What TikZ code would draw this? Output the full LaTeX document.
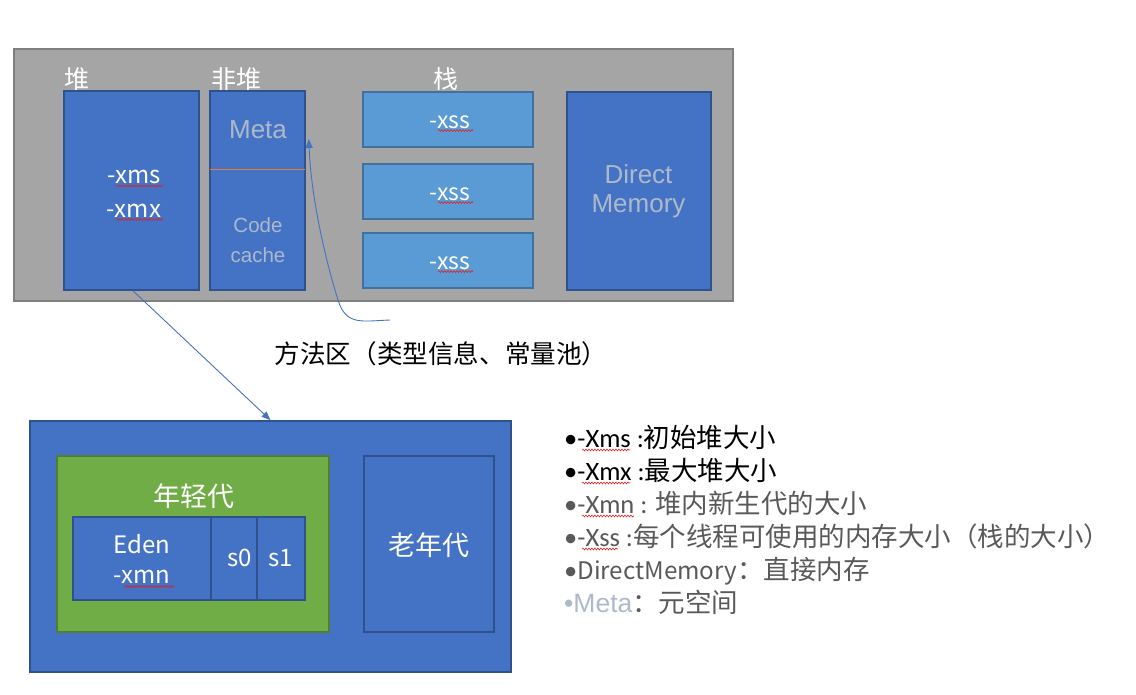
\documentclass[tikz,border=0pt]{standalone}
\usepackage{fontspec}
\setmainfont{Noto Sans CJK SC}
\newfontfamily\lib{Liberation Sans}
\newfontfamily\carl{Carlito}
\usetikzlibrary{arrows.meta,decorations.pathmorphing}
\definecolor{greyfill}{HTML}{A5A5A5}
\definecolor{greyline}{HTML}{7F7F7F}
\definecolor{bfill}{HTML}{4472C4}
\definecolor{bline}{HTML}{2F528F}
\definecolor{lbfill}{HTML}{5B9BD5}
\definecolor{lbline}{HTML}{41719C}
\definecolor{gfill}{HTML}{70AD47}
\definecolor{gline}{HTML}{507E32}
\definecolor{paletxt}{HTML}{ADB9CA}
\definecolor{darkgrey}{HTML}{595959}
\definecolor{orangeline}{HTML}{ED7D31}
\definecolor{spell}{HTML}{E02020}
\begin{document}
\begin{tikzpicture}[x=1pt,y=-1pt,
  box/.style={draw, rectangle, inner sep=0pt, line width=1.6pt},
  greybox/.style={box, fill=greyfill, draw=greyline},
  bluebox/.style={box, fill=bfill, draw=bline},
  lightbox/.style={box, fill=lbfill, draw=lbline},
  greenbox/.style={box, fill=gfill, draw=gline},
  wtxt/.style={text=white, inner sep=0pt, font=\fontsize{25}{30}\selectfont},
  paletext/.style={text=paletxt, inner sep=0pt, font=\lib\fontsize{26}{31}\selectfont},
  arr/.style={draw=bfill, line width=0.9pt, -{Triangle[length=9pt,width=7pt]}},
  wavy/.style={draw=spell, line width=0.6pt, decorate, decoration={snake, amplitude=0.9pt, segment length=3pt}},
  legend/.style={anchor=base west, inner sep=0pt, font=\fontsize{26.5}{31}\selectfont}
]
\useasboundingbox (0,0) rectangle (1136,694);

% ---------- top grey area ----------
\node[greybox, minimum width=719, minimum height=252] (outer) at (373.5,175) {};
\node[bluebox, minimum width=135, minimum height=199] (heap) at (131.5,190.5) {};
\node[bluebox, minimum width=95, minimum height=199] (nonheap) at (257.5,190.5) {};
\coordinate (divy) at (0,169);
\draw[orangeline, line width=0.8pt] ([xshift=1]nonheap.west |- divy) -- ([xshift=-1]nonheap.east |- divy);
\node[lightbox, minimum width=170, minimum height=55] (xss1) at (448,119.5) {};
\node[lightbox, minimum width=170, minimum height=55] (xss2) at (448,191.5) {};
\node[lightbox, minimum width=170, minimum height=55] (xss3) at (448,260.5) {};
\node[bluebox, minimum width=144, minimum height=198] (dm) at (639,191) {};

\node[wtxt] (lheap) at (76.5,79) {堆};
\node[wtxt] (lnonheap) at (236,79) {非堆};
\node[wtxt] (lstack) at (446,79) {栈};

\node[wtxt, font=\fontsize{24}{29}\selectfont] (xms) at (134,177) {-xms};
\node[wtxt, font=\fontsize{24}{29}\selectfont] (xmx) at (134,211) {-xmx};
\draw[wavy] (116,186) -- (163,186);
\draw[wavy] (116,219.5) -- (163,219.5);

\node[paletext] (meta) at (258,129.5) {Meta};
\node[paletext, font=\lib\fontsize{20.5}{25}\selectfont] (code) at (258,225) {Code};
\node[paletext, font=\lib\fontsize{20.5}{25}\selectfont] (cache) at (258,255) {cache};

\node[wtxt, font=\fontsize{23}{28}\selectfont] (txss1) at (450,122.5) {-xss};
\node[wtxt, font=\fontsize{23}{28}\selectfont] (txss2) at (450,194.5) {-xss};
\node[wtxt, font=\fontsize{23}{28}\selectfont] (txss3) at (450,263.5) {-xss};
\draw[wavy] (438,130.5) -- (473,130.5);
\draw[wavy] (438,202.5) -- (473,202.5);
\draw[wavy] (438,271.5) -- (473,271.5);

\node[paletext] (direct) at (638.5,174) {Direct};
\node[paletext] (memory) at (638.5,206.5) {Memory};

% ---------- method area label ----------
\node[inner sep=0pt, font=\fontsize{25.6}{30}\selectfont] (method) at (441,354) {方法区（类型信息、常量池）};

% ---------- bottom heap ----------
\node[bluebox, minimum width=481, minimum height=251] (bottom) at (270.5,546.5) {};
\node[greenbox, minimum width=272, minimum height=176] (young) at (193,544) {};
\node[bluebox, minimum width=130, minimum height=176] (old) at (429,544) {};
\node[bluebox, minimum width=138, minimum height=83] (eden) at (142,558.5) {};
\node[bluebox, minimum width=46, minimum height=83] (s0) at (234,558.5) {};
\node[bluebox, minimum width=48, minimum height=83] (s1) at (281,558.5) {};

\node[wtxt, font=\fontsize{27}{32}\selectfont] (lyoung) at (193.5,496) {年轻代};
\node[wtxt, font=\fontsize{27}{32}\selectfont] (lold) at (429,545) {老年代};
\node[wtxt, font=\fontsize{24}{29}\selectfont] (teden) at (142,544) {Eden};
\node[wtxt, font=\fontsize{24}{29}\selectfont] (txmn) at (142,577) {-xmn};
\draw[wavy] (124,586.5) -- (174,586.5);
\node[wtxt, font=\fontsize{24}{29}\selectfont] (ts0) at (240,558) {s0};
\node[wtxt, font=\fontsize{24}{29}\selectfont] (ts1) at (281,558) {s1};

% ---------- connectors ----------
\draw[arr] ([xshift=1.5]heap.south) -- (bottom.north);
\coordinate (cstart) at (390,320);
\coordinate (metay) at (0,139);
\draw[arr] (cstart) .. controls (362,321) and (346,326) .. (338,300)
  .. controls (324,255) and (311,195) .. ([xshift=3]nonheap.east |- metay);

% ---------- legend ----------
\node[legend] (l1) at (564,447) {{\carl •-Xms :}初始堆大小};
\node[legend] (l2) at (564,480) {{\carl •-Xmx :}最大堆大小};
\node[legend, text=darkgrey] (l3) at (564,513) {{\carl •-Xmn : }堆内新生代的大小};
\node[legend, text=darkgrey] (l4) at (564,546) {{\carl •-Xss :}每个线程可使用的内存大小（栈的大小）};
\node[legend, text=darkgrey] (l5) at (564,579) {{\carl •}{\fontsize{24.2}{29}\selectfont DirectMemory}：直接内存};
\node[legend, text=darkgrey] (l6) at (564,612) {{\lib\color{paletxt}•Meta}：元空间};
\draw[wavy] (582,450) -- (630,450);
\draw[wavy] (582,483) -- (630,483);
\draw[wavy] (582,516) -- (634,516);
\draw[wavy] (582,549) -- (618,549);
\end{tikzpicture}
\end{document}
